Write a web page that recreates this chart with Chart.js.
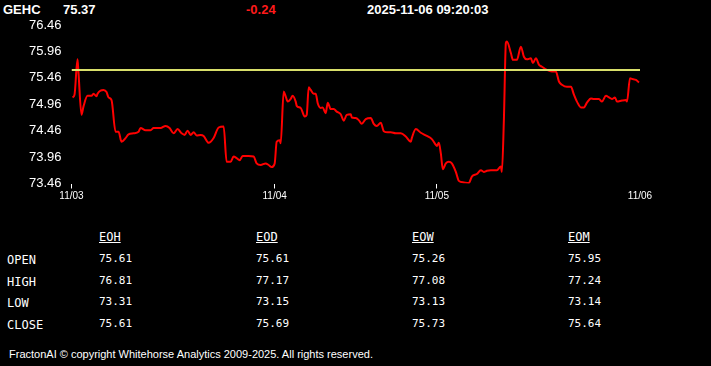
<!DOCTYPE html>
<html>
<head>
<meta charset="utf-8">
<script src="https://cdn.jsdelivr.net/npm/chart.js@4/dist/chart.umd.min.js"></script>
<style>
  html, body { margin: 0; padding: 0; background: #000; }
  body { width: 711px; height: 366px; position: relative; overflow: hidden; color: #fff; }
  .hdr { position: absolute; top: 2px; font: bold 13px "Liberation Sans", Arial, sans-serif; white-space: nowrap; }
  #chartBox { position: absolute; left: 0; top: 0; width: 711px; height: 210px; }
  .cell { position: absolute; white-space: nowrap; font-family: "DejaVu Sans Mono", "Liberation Mono", monospace; }
  .lbl { font-size: 12px; }
  .colhead { font-size: 12px; text-decoration: underline; }
  .val { font-size: 11px; }
  #foot { position: absolute; left: 9px; top: 348px; font: 11px "Liberation Sans", Arial, sans-serif; white-space: nowrap; }
</style>
</head>
<body>
<div class="hdr" style="left:3px">GEHC</div>
<div class="hdr" id="last" style="left:63px"></div>
<div class="hdr" id="chg" style="left:246px;color:#ff1a1a"></div>
<div class="hdr" id="stamp" style="left:367px"></div>
<div id="chartBox"><canvas id="chart"></canvas></div>
<div id="table"></div>
<div id="foot">FractonAI © copyright Whitehorse Analytics 2009-2025. All rights reserved.</div>
<script>
const symbol = "GEHC";
const lastPrice = "75.37";
const change = "-0.24";
const stamp = "2025-11-06 09:20:03";
const openPrice = 75.61;

// bar position along the 4-session window, and price
const barX = [1, 3, 6, 7, 10, 12, 16, 20, 22, 25, 26, 29, 32, 35, 37, 40, 44, 47, 50, 54, 57, 62, 67, 69, 74, 79, 82, 89, 94, 98, 102, 106, 110, 113, 116, 119, 122, 125, 129, 132, 137, 142, 147, 152, 155, 159, 162, 165, 168, 171, 177, 182, 185, 189, 194, 197, 200, 203, 205, 208, 209, 212, 214, 216, 219, 221, 224, 225, 229, 233, 235, 237, 239, 242, 244, 246, 249, 251, 254, 256, 259, 262, 265, 269, 272, 275, 279, 280, 284, 287, 290, 294, 299, 302, 305, 309, 312, 316, 319, 324, 329, 334, 339, 340, 344, 349, 355, 360, 364, 365, 367, 369, 371, 374, 377, 380, 384, 387, 392, 397, 400, 405, 409, 412, 415, 419, 425, 429, 430, 432, 434, 435, 439, 441, 445, 449, 452, 455, 459, 461, 464, 467, 470, 475, 480, 484, 487, 490, 495, 499, 502, 505, 509, 512, 515, 519, 522, 527, 530, 534, 537, 540, 543, 545, 550, 554, 555, 558, 560, 564, 567];
const price = [75.09, 75.14, 75.81, 75.55, 74.76, 74.92, 75.12, 75.12, 75.16, 75.11, 75.16, 75.22, 75.23, 75.19, 75.09, 75.04, 74.44, 74.44, 74.25, 74.32, 74.39, 74.41, 74.44, 74.51, 74.47, 74.47, 74.51, 74.51, 74.55, 74.51, 74.41, 74.49, 74.41, 74.38, 74.46, 74.38, 74.43, 74.37, 74.38, 74.36, 74.23, 74.32, 74.52, 74.54, 73.87, 73.87, 73.97, 73.94, 73.90, 73.98, 73.98, 73.97, 73.84, 73.81, 73.84, 73.81, 73.77, 73.84, 74.25, 74.28, 74.22, 75.20, 75.11, 75.01, 75.06, 75.12, 75.01, 74.93, 74.89, 74.73, 74.76, 75.28, 75.23, 75.16, 75.16, 74.98, 74.89, 74.90, 74.79, 74.99, 74.87, 74.87, 74.82, 74.77, 74.65, 74.76, 74.77, 74.71, 74.70, 74.66, 74.59, 74.68, 74.70, 74.59, 74.55, 74.61, 74.45, 74.43, 74.43, 74.41, 74.41, 74.35, 74.25, 74.32, 74.49, 74.42, 74.36, 74.30, 74.19, 74.17, 74.23, 74.03, 73.73, 73.84, 73.87, 73.84, 73.68, 73.51, 73.48, 73.47, 73.59, 73.64, 73.71, 73.68, 73.70, 73.71, 73.71, 73.78, 73.68, 74.66, 76.12, 76.15, 75.93, 75.80, 75.80, 76.05, 75.86, 75.81, 75.83, 75.74, 75.83, 75.71, 75.67, 75.61, 75.58, 75.58, 75.39, 75.33, 75.29, 75.29, 75.14, 75.01, 74.90, 74.90, 74.99, 75.07, 75.06, 75.06, 75.01, 75.12, 75.09, 75.06, 75.09, 75.01, 75.03, 75.04, 75.01, 75.45, 75.44, 75.42, 75.37];

const dayTicks = [0, 203, 365, 568];
const dayLabels = ["11/03", "11/04", "11/05", "11/06"];
const yTicks = [73.46, 73.96, 74.46, 74.96, 75.46, 75.96, 76.46];

const tableCols = ["EOH", "EOD", "EOW", "EOM"];
const tableRows = ["OPEN", "HIGH", "LOW", "CLOSE"];
const openVals = ["75.61", "75.61", "75.26", "75.95"];
const highVals = ["76.81", "77.17", "77.08", "77.24"];
const lowVals = ["73.31", "73.15", "73.13", "73.14"];
const closeVals = ["75.61", "75.69", "75.73", "75.64"];

document.getElementById("last").textContent = lastPrice;
document.getElementById("chg").textContent = change;
document.getElementById("stamp").textContent = stamp;

// stats table under the chart
(function buildTable() {
  const t = document.getElementById("table");
  const colX = [99, 256, 412, 568];
  const rowY = [252, 274, 295, 317];
  const rowVals = [openVals, highVals, lowVals, closeVals];
  const add = (cls, txt, x, y) => {
    const d = document.createElement("div");
    d.className = "cell " + cls;
    d.textContent = txt;
    d.style.left = x + "px";
    d.style.top = y + "px";
    t.appendChild(d);
  };
  tableCols.forEach((c, i) => add("colhead", c, colX[i], 230));
  tableRows.forEach((r, j) => {
    add("lbl", r, 7, rowY[j] + 1);
    rowVals[j].forEach((v, i) => add("val", v, colX[i], rowY[j]));
  });
})();

const ctx = document.getElementById("chart").getContext("2d");
new Chart(ctx, {
  type: "line",
  data: {
    datasets: [
      {
        label: "open",
        data: [{ x: dayTicks[0], y: openPrice }, { x: dayTicks[3], y: openPrice }],
        borderColor: "#d8df6a",
        borderWidth: 2,
        pointRadius: 0,
      },
      {
        label: symbol,
        data: barX.map((x, i) => ({ x, y: price[i] })),
        borderColor: "#ff0000",
        borderWidth: 2,
        pointRadius: 0,
        cubicInterpolationMode: "monotone",
      },
    ],
  },
  options: {
    responsive: true,
    maintainAspectRatio: false,
    animation: false,
    layout: { padding: { top: 25, right: 71, bottom: 0, left: 0 } },
    plugins: { legend: { display: false }, tooltip: { enabled: false } },
    scales: {
      x: {
        type: "linear",
        min: dayTicks[0],
        max: dayTicks[3],
        afterBuildTicks: (s) => { s.ticks = dayTicks.map((v) => ({ value: v })); },
        afterFit: (s) => { s.height = 26.5; },
        border: { display: false },
        grid: {
          drawOnChartArea: false,
          drawTicks: true,
          tickLength: 5,
          color: (c) => (c.index === 3 ? "rgba(0,0,0,0)" : "#ffffff"),
        },
        ticks: {
          color: "#ffffff",
          padding: 2,
          maxRotation: 0,
          autoSkip: false,
          font: { family: "Liberation Sans, Arial, sans-serif", size: 10 },
          callback: (v) => dayLabels[dayTicks.indexOf(v)],
        },
      },
      y: {
        min: yTicks[0],
        max: yTicks[yTicks.length - 1],
        afterBuildTicks: (s) => { s.ticks = yTicks.map((v) => ({ value: v })); },
        afterFit: (s) => { s.width = 71.5; },
        border: { display: false },
        grid: { display: false, drawTicks: false },
        ticks: {
          color: "#ffffff",
          padding: 10,
          font: { family: "Liberation Sans, Arial, sans-serif", size: 13 },
          callback: (v) => v.toFixed(2),
        },
      },
    },
  },
});
</script>
</body>
</html>
